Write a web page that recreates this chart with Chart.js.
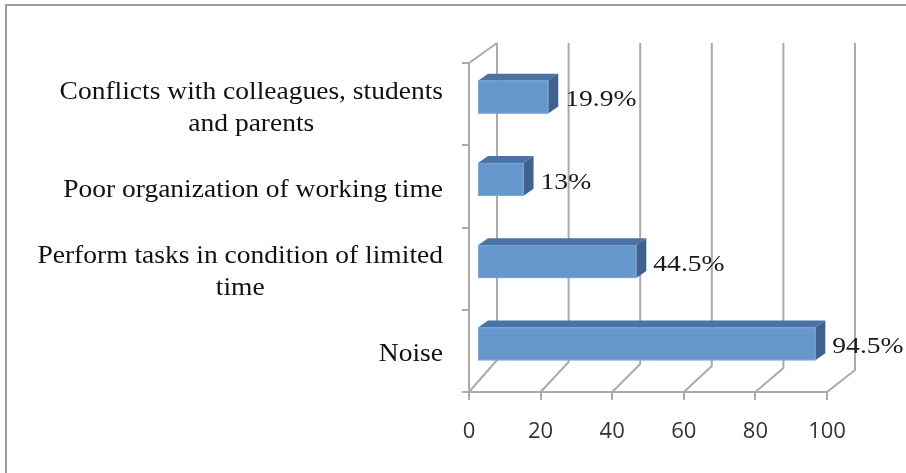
<!DOCTYPE html>
<html>
<head>
<meta charset="utf-8">
<script src="https://cdn.jsdelivr.net/npm/chart.js@4.4.0/dist/chart.umd.min.js"></script>
<style>
  body { margin: 0; background: #fff; }
  #wrap { width: 906px; height: 473px; }
</style>
</head>
<body>
<div id="wrap"><canvas id="barChart" width="906" height="473"></canvas></div>
<script>
// Dados do gráfico
const categories = [
    ['Conflicts with colleagues, students', 'and parents'],
    ['Poor organization of working time'],
    ['Perform tasks in condition of limited', 'time'],
    ['Noise']
];
const values = [19.9, 13, 44.5, 94.5];
const xTicks = [0, 20, 40, 60, 80, 100];

const gridColor = '#ababab';
const serif = '"Liberation Serif", "Times New Roman", serif';
const ctx = document.getElementById('barChart').getContext('2d');

// Profundidade do "3D" (parede de fundo)
const wallDX = 28;
const wallTopDY = -20;
function wallBottomDY(v) { return -32 + 10 * v / 100; }

// Caixa 3D das barras
const barShiftX = 8, barShiftY = -7;
const boxDX = 10, boxDY = -7;

// Texto um pouco esticado na horizontal, como no original
function stretchedText(c, text, x, y, sx) {
    c.save();
    c.translate(x, y);
    c.scale(sx, 1);
    c.fillText(text, 0, 0);
    c.restore();
}

const backdrop = {
    id: 'backdrop',
    beforeDraw(chart) {
        const c = chart.ctx;
        const area = chart.chartArea;
        const xs = chart.scales.x;
        c.save();
        c.fillStyle = '#fff';
        c.fillRect(0, 0, chart.width, chart.height);

        // moldura externa
        c.strokeStyle = '#9c9c9c';
        c.lineWidth = 2;
        c.beginPath();
        c.moveTo(6, chart.height);
        c.lineTo(6, 5);
        c.lineTo(chart.width, 5);
        c.stroke();

        // parede de fundo e chão
        c.strokeStyle = gridColor;
        c.lineWidth = 2;
        c.beginPath();
        xs.ticks.forEach(t => {
            const x = xs.getPixelForValue(t.value);
            const bx = x + wallDX;
            const by = area.bottom + wallBottomDY(t.value);
            c.moveTo(bx, area.top + wallTopDY);
            c.lineTo(bx, by);
            c.lineTo(x, area.bottom);
        });
        c.moveTo(area.left, area.top);
        c.lineTo(area.left + wallDX, area.top + wallTopDY);
        c.stroke();
        c.restore();
    },
    afterDatasetsDraw(chart) {
        const c = chart.ctx;
        const meta = chart.getDatasetMeta(0);
        c.save();
        meta.data.forEach((bar, i) => {
            const p = bar.getProps(['x', 'y', 'base', 'height'], true);
            const x0 = p.base + barShiftX;
            const x1 = p.x + barShiftX;
            const yc = p.y + barShiftY;
            const top = yc - p.height / 2;
            const bot = yc + p.height / 2;

            // face de cima
            c.fillStyle = '#4b73a6';
            c.beginPath();
            c.moveTo(x0, top);
            c.lineTo(x0 + boxDX, top + boxDY);
            c.lineTo(x1 + boxDX, top + boxDY);
            c.lineTo(x1, top);
            c.closePath();
            c.fill();

            // face lateral
            c.fillStyle = '#3e618f';
            c.beginPath();
            c.moveTo(x1, top);
            c.lineTo(x1 + boxDX, top + boxDY);
            c.lineTo(x1 + boxDX, bot + boxDY);
            c.lineTo(x1, bot);
            c.closePath();
            c.fill();

            // face da frente
            c.fillStyle = '#6597cd';
            c.fillRect(x0, top, x1 - x0, bot - top);
            c.strokeStyle = '#7aa6d6';
            c.lineWidth = 1;
            c.strokeRect(x0 + 0.5, top + 0.5, x1 - x0 - 1, bot - top - 1);

            // rótulo do valor
            c.fillStyle = '#1a1a1a';
            c.font = '24px ' + serif;
            c.textAlign = 'left';
            c.textBaseline = 'middle';
            stretchedText(c, values[i] + '%', x1 + boxDX + 7, yc + 3, 1.15);
        });

        // rótulos das categorias (linhas centradas entre si, bloco à direita)
        const ys = chart.scales.y;
        const sx = 1.1;
        c.fillStyle = '#111';
        c.font = '25px ' + serif;
        c.textAlign = 'center';
        c.textBaseline = 'middle';
        const rightEdge = chart.chartArea.left - 26;
        categories.forEach((lines, i) => {
            const yc = ys.getPixelForTick(i) + 4;
            const maxW = Math.max(...lines.map(l => c.measureText(l).width)) * sx;
            const cx = rightEdge - maxW / 2;
            lines.forEach((l, j) => {
                stretchedText(c, l, cx, yc + (j - (lines.length - 1) / 2) * 32, sx);
            });
        });
        c.restore();
    }
};

new Chart(ctx, {
    type: 'bar',
    data: {
        labels: categories,
        datasets: [{
            label: 'Valores',
            data: values,
            backgroundColor: 'rgba(0,0,0,0)',
            borderWidth: 0,
            barPercentage: 0.4,
            categoryPercentage: 1
        }]
    },
    options: {
        indexAxis: 'y',
        responsive: false,
        animation: false,
        layout: { padding: { left: 0, top: 63, right: 79, bottom: 0 } },
        plugins: {
            legend: { display: false },
            tooltip: { enabled: false }
        },
        scales: {
            x: {
                min: 0,
                max: 100,
                afterBuildTicks: s => { s.ticks = xTicks.map(v => ({ value: v })); },
                afterFit: s => { s.height = 81; },
                grid: {
                    drawOnChartArea: false,
                    drawTicks: true,
                    tickLength: 8,
                    color: gridColor,
                    lineWidth: 2
                },
                border: { display: true, color: gridColor, width: 2 },
                ticks: {
                    padding: 19,
                    color: '#333',
                    font: { family: '"Open Sans", sans-serif', size: 22 }
                }
            },
            y: {
                afterFit: s => { s.width = 469; },
                grid: {
                    drawOnChartArea: false,
                    drawTicks: true,
                    tickLength: 7,
                    color: gridColor,
                    lineWidth: 2
                },
                border: { display: true, color: gridColor, width: 2 },
                ticks: { color: 'rgba(0,0,0,0)' }
            }
        }
    },
    plugins: [backdrop]
});
</script>
</body>
</html>
